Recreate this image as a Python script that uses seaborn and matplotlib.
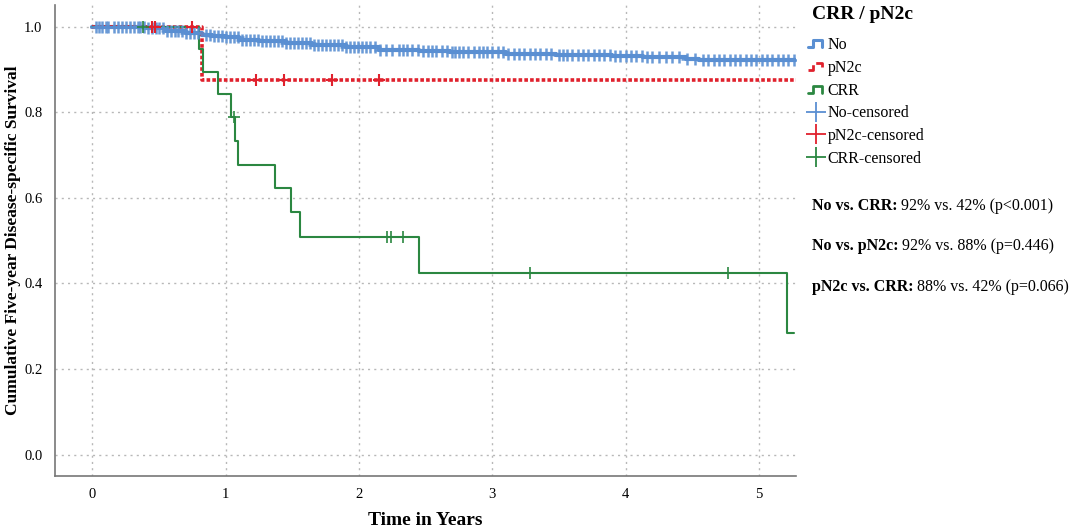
import numpy as np
import pandas as pd
import matplotlib
matplotlib.use("Agg")
import matplotlib.pyplot as plt
from matplotlib.lines import Line2D
from matplotlib.legend_handler import HandlerBase
import seaborn as sns

# step curves (time in years, survival)
no_times = [0, 0.40, 0.55, 0.70, 0.82, 0.90, 1.00, 1.10, 1.25, 1.45, 1.65, 1.90, 2.15, 2.45, 2.68, 3.10, 3.48, 3.90, 4.13, 4.45, 4.55]
no_surv = [1.0, 0.996, 0.991, 0.986, 0.981, 0.979, 0.975, 0.969, 0.966, 0.961, 0.957, 0.953, 0.946, 0.943, 0.940, 0.937, 0.933, 0.931, 0.928, 0.924, 0.921]
pn2c_times = [0, 0.82]
pn2c_surv = [1.0, 0.876]
crr_times = [0, 0.80, 0.83, 0.94, 1.04, 1.07, 1.09, 1.37, 1.49, 1.56, 2.45, 5.21]
crr_surv = [1.0, 0.947, 0.895, 0.842, 0.790, 0.733, 0.677, 0.622, 0.566, 0.509, 0.425, 0.283]
end_times = {"No": 5.28, "pN2c": 5.28, "CRR": 5.26}

# censored observations
no_cens = [0.03, 0.05, 0.07, 0.10, 0.12, 0.16, 0.19, 0.22, 0.25, 0.28, 0.31, 0.34, 0.36, 0.39,
           0.42, 0.45, 0.48, 0.50, 0.53, 0.56, 0.59, 0.62, 0.64, 0.67, 0.70, 0.73, 0.76, 0.79,
           0.85, 0.88, 0.91, 0.94, 0.97, 1.00, 1.03, 1.06, 1.09, 1.12, 1.15, 1.18, 1.21, 1.24,
           1.27, 1.30, 1.33, 1.36, 1.39, 1.42, 1.45, 1.48, 1.51, 1.54, 1.57, 1.60, 1.63, 1.66,
           1.69, 1.72, 1.75, 1.78, 1.81, 1.84, 1.87, 1.90, 1.93, 1.96, 1.99, 2.02, 2.05, 2.08,
           2.12, 2.16, 2.20, 2.25, 2.30, 2.33, 2.36, 2.40, 2.44, 2.48, 2.52, 2.55, 2.58, 2.62,
           2.66, 2.70, 2.72, 2.75, 2.78, 2.82, 2.86, 2.90, 2.93, 2.96, 3.00, 3.04, 3.08, 3.12,
           3.16, 3.20, 3.24, 3.28, 3.32, 3.36, 3.40, 3.44, 3.50, 3.53, 3.56, 3.60, 3.64, 3.68,
           3.72, 3.76, 3.80, 3.84, 3.88, 3.92, 3.96, 4.00, 4.04, 4.08, 4.12, 4.16, 4.20, 4.25,
           4.30, 4.35, 4.40, 4.46, 4.52, 4.58, 4.62, 4.66, 4.70, 4.74, 4.78, 4.82, 4.86, 4.90,
           4.94, 4.98, 5.02, 5.06, 5.10, 5.14, 5.18, 5.22, 5.26]
pn2c_cens = [0.45, 0.47, 0.75, 1.23, 1.44, 1.80, 2.15]
crr_cens = [0.38, 1.06, 2.21, 2.24, 2.33, 3.28, 4.77]

stats_bold = ["No vs. CRR:", "No vs. pN2c:", "pN2c vs. CRR:"]
stats_text = [" 92% vs. 42% (p<0.001)", " 92% vs. 88% (p=0.446)", " 88% vs. 42% (p=0.066)"]

colors = {"No": "#5a8fd2", "pN2c": "#e0212d", "CRR": "#2b8741"}

sns.set_style("white")
plt.rcParams["font.family"] = ["Liberation Serif", "DejaVu Serif"]
plt.rcParams["text.color"] = "black"
plt.rcParams["axes.labelcolor"] = "black"
plt.rcParams["xtick.color"] = "black"
plt.rcParams["ytick.color"] = "black"


def step_value(times, surv, t):
    idx = np.searchsorted(times, t, side="right") - 1
    return np.asarray(surv)[idx]


def main():
    groups = {"No": (no_times, no_surv, no_cens),
              "pN2c": (pn2c_times, pn2c_surv, pn2c_cens),
              "CRR": (crr_times, crr_surv, crr_cens)}

    fig = plt.figure(figsize=(10.84, 5.30), dpi=100)
    ax = fig.add_axes([0.0507, 0.102, 0.684, 0.888])

    styles = {"No": dict(lw=3.0, ls="-"), "pN2c": dict(lw=2.6, ls=(0, (1, 0.6))), "CRR": dict(lw=1.5, ls="-")}
    msize = {"No": (9, 1.8), "pN2c": (9, 1.5), "CRR": (9, 1.2)}

    for name, (t, s, c) in groups.items():
        df = pd.DataFrame({"time": list(t) + [end_times[name]], "surv": list(s) + [s[-1]]})
        sns.lineplot(data=df, x="time", y="surv", ax=ax, color=colors[name],
                     drawstyle="steps-post", estimator=None, **styles[name])
    for name, (t, s, c) in groups.items():
        cdf = pd.DataFrame({"time": c, "surv": step_value(t, s, np.array(c))})
        ax.plot(cdf["time"], cdf["surv"], ls="none", marker="+", color=colors[name],
                ms=msize[name][0], mew=msize[name][1], alpha=0.9 if name == "No" else 1)

    ax.set_xlim(-0.28, 5.28)
    ax.set_ylim(-0.05, 1.05)
    ax.set_xticks(range(6))
    ax.set_yticks([0, 0.2, 0.4, 0.6, 0.8, 1.0])
    ax.set_yticklabels(["0.0", "0.2", "0.4", "0.6", "0.8", "1.0"])
    ax.tick_params(length=0, labelsize=10.5, pad=9)
    ax.grid(True, ls=(0, (1.5, 3)), color="#b8b8b8", lw=1)
    sns.despine(ax=ax)
    for sp in ["left", "bottom"]:
        ax.spines[sp].set_color("#777777")
        ax.spines[sp].set_linewidth(1.2)
    ax.set_xlabel("Time in Years", fontsize=14, fontweight="bold")
    ax.set_ylabel("Cumulative Five-year Disease-specific Survival", fontsize=12.5,
                  fontweight="bold")
    ax.xaxis.set_label_coords(0.5, -0.095)
    ax.yaxis.set_label_coords(-0.057, 0.5)
    ax.xaxis.label.set_va("center")
    ax.yaxis.label.set_va("center")

    class StepHandler(HandlerBase):
        def create_artists(self, legend, orig, xd, yd, w, h, fontsize, trans):
            xs = np.array([0, 0.35, 0.35, 0.9, 0.9]) * w - xd
            ys = np.array([0.15, 0.15, 0.8, 0.8, 0.15]) * h - yd
            ln = Line2D(xs, ys, color=orig.get_color(), lw=orig.get_linewidth(),
                        ls=orig.get_linestyle(), transform=trans)
            return [ln]

    step_handles = [Line2D([], [], color=colors["No"], lw=2.2),
                    Line2D([], [], color=colors["pN2c"], lw=2.0, ls=(0, (1, 0.6))),
                    Line2D([], [], color=colors["CRR"], lw=2.0)]
    cens_handles = [Line2D([], [], color=colors[n], ls="none", marker="+", ms=14, mew=1.3)
                    for n in ["No", "pN2c", "CRR"]]
    labels = ["No", "pN2c", "CRR", "No-censored", "pN2c-censored", "CRR-censored"]
    fig.text(0.749, 0.973, "CRR / pN2c", fontsize=14, fontweight="bold", va="center")
    fig.legend(step_handles + cens_handles, labels, loc="upper left",
               bbox_to_anchor=(0.732, 0.957), frameon=False, fontsize=11.5,
               handlelength=1.0, handletextpad=0.25, labelspacing=0.42,
               handler_map={h: StepHandler() for h in step_handles})

    fig.canvas.draw()
    renderer = fig.canvas.get_renderer()
    ys = [0.611, 0.535, 0.458]
    for yb, b, r in zip(ys, stats_bold, stats_text):
        tb = fig.text(0.749, yb, b, fontsize=11.5, fontweight="bold", va="center")
        bb = tb.get_window_extent(renderer)
        x2 = bb.x1 / fig.bbox.width
        fig.text(x2, yb, r, fontsize=11.5, va="center")

    fig.savefig("out.png", dpi=100)


if __name__ == "__main__":
    main()
